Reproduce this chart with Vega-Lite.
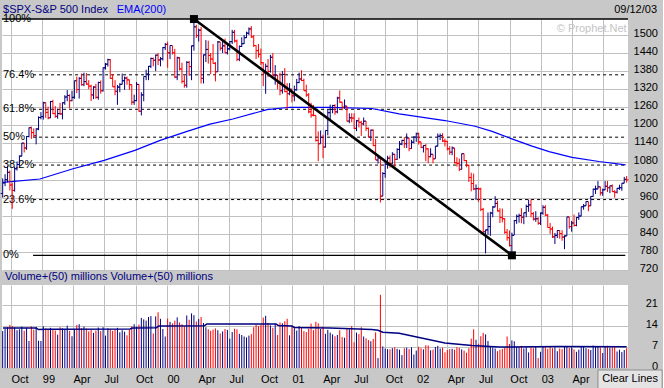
{
"$schema": "https://vega.github.io/schema/vega-lite/v6.json",
"background": "#c8c8c8",
"padding": {"left": -2, "top": 3, "right": 0, "bottom": 0},
"config": {
  "view": {"fill": "white", "stroke": null},
  "font": "Liberation Sans",
  "axis": {"domain": false, "ticks": false, "tickSize": 0, "gridColor": "#c0c0c0", "gridOpacity": 1, "gridWidth": 1, "labelFont": "Liberation Sans", "labelFontSize": 11, "labelColor": "#000000"},
  "text": {"font": "Liberation Sans", "fontSize": 11}
},
"datasets": {
  "weekly": [
{"d":"1998-09-07","o":974,"h":1024,"l":960,"c":1009,"v":12.3},
{"d":"1998-09-14","o":1009,"h":1038,"l":998,"c":1020,"v":13.1},
{"d":"1998-09-21","o":1020,"h":1066,"l":1011,"c":1044,"v":13.6},
{"d":"1998-09-28","o":1044,"h":1050,"l":984,"c":1002,"v":14.4},
{"d":"1998-10-05","o":1002,"h":1010,"l":923,"c":984,"v":14.0},
{"d":"1998-10-12","o":984,"h":1063,"l":980,"c":1056,"v":13.5},
{"d":"1998-10-19","o":1056,"h":1080,"l":1050,"c":1070,"v":12.6},
{"d":"1998-10-26","o":1070,"h":1100,"l":1063,"c":1098,"v":12.9},
{"d":"1998-11-02","o":1098,"h":1142,"l":1097,"c":1141,"v":13.8},
{"d":"1998-11-09","o":1141,"h":1142,"l":1110,"c":1125,"v":12.4},
{"d":"1998-11-16","o":1125,"h":1165,"l":1119,"c":1163,"v":13.4},
{"d":"1998-11-23","o":1163,"h":1193,"l":1160,"c":1192,"v":9.0},
{"d":"1998-11-30","o":1192,"h":1196,"l":1155,"c":1176,"v":13.9},
{"d":"1998-12-07","o":1176,"h":1190,"l":1159,"c":1166,"v":12.8},
{"d":"1998-12-14","o":1166,"h":1190,"l":1137,"c":1188,"v":13.7},
{"d":"1998-12-21","o":1188,"h":1230,"l":1184,"c":1226,"v":9.1},
{"d":"1998-12-28","o":1226,"h":1244,"l":1220,"c":1229,"v":9.0},
{"d":"1999-01-04","o":1229,"h":1278,"l":1219,"c":1275,"v":13.9},
{"d":"1999-01-11","o":1275,"h":1276,"l":1225,"c":1243,"v":13.2},
{"d":"1999-01-18","o":1243,"h":1262,"l":1220,"c":1225,"v":12.7},
{"d":"1999-01-25","o":1225,"h":1281,"l":1224,"c":1279,"v":13.4},
{"d":"1999-02-01","o":1279,"h":1285,"l":1237,"c":1239,"v":13.0},
{"d":"1999-02-08","o":1239,"h":1264,"l":1225,"c":1230,"v":12.5},
{"d":"1999-02-15","o":1230,"h":1255,"l":1222,"c":1239,"v":11.1},
{"d":"1999-02-22","o":1239,"h":1275,"l":1235,"c":1238,"v":13.6},
{"d":"1999-03-01","o":1238,"h":1276,"l":1220,"c":1275,"v":13.2},
{"d":"1999-03-08","o":1275,"h":1300,"l":1268,"c":1294,"v":12.8},
{"d":"1999-03-15","o":1294,"h":1317,"l":1280,"c":1299,"v":14.1},
{"d":"1999-03-22","o":1299,"h":1303,"l":1256,"c":1282,"v":12.4},
{"d":"1999-03-29","o":1282,"h":1315,"l":1280,"c":1293,"v":10.6},
{"d":"1999-04-05","o":1293,"h":1348,"l":1288,"c":1348,"v":12.9},
{"d":"1999-04-12","o":1348,"h":1362,"l":1307,"c":1319,"v":14.3},
{"d":"1999-04-19","o":1319,"h":1360,"l":1289,"c":1356,"v":14.6},
{"d":"1999-04-26","o":1356,"h":1372,"l":1332,"c":1335,"v":13.3},
{"d":"1999-05-03","o":1335,"h":1375,"l":1330,"c":1345,"v":13.8},
{"d":"1999-05-10","o":1345,"h":1374,"l":1335,"c":1337,"v":13.1},
{"d":"1999-05-17","o":1337,"h":1350,"l":1320,"c":1330,"v":12.2},
{"d":"1999-05-24","o":1330,"h":1335,"l":1281,"c":1301,"v":12.8},
{"d":"1999-05-31","o":1301,"h":1330,"l":1287,"c":1327,"v":11.7},
{"d":"1999-06-07","o":1327,"h":1338,"l":1288,"c":1293,"v":12.5},
{"d":"1999-06-14","o":1293,"h":1345,"l":1285,"c":1342,"v":13.5},
{"d":"1999-06-21","o":1342,"h":1349,"l":1305,"c":1315,"v":12.3},
{"d":"1999-06-28","o":1315,"h":1392,"l":1312,"c":1391,"v":13.6},
{"d":"1999-07-05","o":1391,"h":1407,"l":1385,"c":1403,"v":10.8},
{"d":"1999-07-12","o":1403,"h":1421,"l":1395,"c":1418,"v":13.2},
{"d":"1999-07-19","o":1418,"h":1420,"l":1355,"c":1356,"v":13.0},
{"d":"1999-07-26","o":1356,"h":1370,"l":1328,"c":1328,"v":12.4},
{"d":"1999-08-02","o":1328,"h":1350,"l":1300,"c":1313,"v":12.9},
{"d":"1999-08-09","o":1313,"h":1334,"l":1268,"c":1327,"v":13.4},
{"d":"1999-08-16","o":1327,"h":1340,"l":1310,"c":1336,"v":11.9},
{"d":"1999-08-23","o":1336,"h":1372,"l":1336,"c":1348,"v":12.6},
{"d":"1999-08-30","o":1348,"h":1362,"l":1318,"c":1357,"v":12.1},
{"d":"1999-09-06","o":1357,"h":1362,"l":1335,"c":1351,"v":10.9},
{"d":"1999-09-13","o":1351,"h":1352,"l":1318,"c":1335,"v":12.8},
{"d":"1999-09-20","o":1335,"h":1336,"l":1268,"c":1277,"v":13.9},
{"d":"1999-09-27","o":1277,"h":1302,"l":1268,"c":1282,"v":14.6},
{"d":"1999-10-04","o":1282,"h":1344,"l":1280,"c":1336,"v":13.8},
{"d":"1999-10-11","o":1336,"h":1337,"l":1245,"c":1247,"v":14.5},
{"d":"1999-10-18","o":1247,"h":1310,"l":1233,"c":1301,"v":16.7},
{"d":"1999-10-25","o":1301,"h":1362,"l":1280,"c":1362,"v":16.2},
{"d":"1999-11-01","o":1362,"h":1385,"l":1350,"c":1370,"v":15.8},
{"d":"1999-11-08","o":1370,"h":1397,"l":1350,"c":1396,"v":17.0},
{"d":"1999-11-15","o":1396,"h":1425,"l":1390,"c":1422,"v":17.3},
{"d":"1999-11-22","o":1422,"h":1425,"l":1396,"c":1416,"v":11.5},
{"d":"1999-11-29","o":1416,"h":1435,"l":1380,"c":1433,"v":17.2},
{"d":"1999-12-06","o":1433,"h":1440,"l":1400,"c":1417,"v":18.6},
{"d":"1999-12-13","o":1417,"h":1427,"l":1396,"c":1421,"v":16.4},
{"d":"1999-12-20","o":1421,"h":1460,"l":1415,"c":1458,"v":13.0},
{"d":"1999-12-27","o":1458,"h":1473,"l":1450,"c":1469,"v":10.5},
{"d":"2000-01-03","o":1469,"h":1478,"l":1391,"c":1441,"v":16.5},
{"d":"2000-01-10","o":1441,"h":1465,"l":1420,"c":1465,"v":15.4},
{"d":"2000-01-17","o":1465,"h":1465,"l":1435,"c":1441,"v":14.9},
{"d":"2000-01-24","o":1441,"h":1454,"l":1357,"c":1360,"v":15.8},
{"d":"2000-01-31","o":1360,"h":1428,"l":1350,"c":1424,"v":16.9},
{"d":"2000-02-07","o":1424,"h":1427,"l":1382,"c":1387,"v":15.2},
{"d":"2000-02-14","o":1387,"h":1408,"l":1339,"c":1346,"v":14.6},
{"d":"2000-02-21","o":1346,"h":1366,"l":1325,"c":1333,"v":13.9},
{"d":"2000-02-28","o":1333,"h":1413,"l":1325,"c":1409,"v":17.5},
{"d":"2000-03-06","o":1409,"h":1414,"l":1365,"c":1395,"v":16.1},
{"d":"2000-03-13","o":1395,"h":1465,"l":1350,"c":1464,"v":18.2},
{"d":"2000-03-20","o":1464,"h":1553,"l":1448,"c":1527,"v":17.6},
{"d":"2000-03-27","o":1527,"h":1534,"l":1490,"c":1498,"v":15.5},
{"d":"2000-04-03","o":1498,"h":1521,"l":1478,"c":1516,"v":16.3},
{"d":"2000-04-10","o":1516,"h":1527,"l":1339,"c":1356,"v":17.0},
{"d":"2000-04-17","o":1356,"h":1435,"l":1339,"c":1434,"v":15.0},
{"d":"2000-04-24","o":1434,"h":1483,"l":1410,"c":1452,"v":13.6},
{"d":"2000-05-01","o":1452,"h":1481,"l":1405,"c":1432,"v":12.9},
{"d":"2000-05-08","o":1432,"h":1440,"l":1370,"c":1420,"v":12.4},
{"d":"2000-05-15","o":1420,"h":1470,"l":1405,"c":1406,"v":12.8},
{"d":"2000-05-22","o":1406,"h":1410,"l":1346,"c":1378,"v":13.2},
{"d":"2000-05-29","o":1378,"h":1480,"l":1378,"c":1477,"v":12.6},
{"d":"2000-06-05","o":1477,"h":1477,"l":1448,"c":1456,"v":11.5},
{"d":"2000-06-12","o":1456,"h":1480,"l":1440,"c":1464,"v":12.2},
{"d":"2000-06-19","o":1464,"h":1488,"l":1440,"c":1441,"v":13.0},
{"d":"2000-06-26","o":1441,"h":1470,"l":1435,"c":1454,"v":12.7},
{"d":"2000-07-03","o":1454,"h":1480,"l":1449,"c":1478,"v":9.8},
{"d":"2000-07-10","o":1478,"h":1517,"l":1470,"c":1509,"v":12.0},
{"d":"2000-07-17","o":1509,"h":1517,"l":1475,"c":1480,"v":13.1},
{"d":"2000-07-24","o":1480,"h":1485,"l":1413,"c":1419,"v":12.9},
{"d":"2000-07-31","o":1419,"h":1465,"l":1413,"c":1462,"v":11.4},
{"d":"2000-08-07","o":1462,"h":1492,"l":1460,"c":1471,"v":11.0},
{"d":"2000-08-14","o":1471,"h":1500,"l":1470,"c":1491,"v":10.5},
{"d":"2000-08-21","o":1491,"h":1511,"l":1490,"c":1506,"v":10.2},
{"d":"2000-08-28","o":1506,"h":1525,"l":1500,"c":1520,"v":10.8},
{"d":"2000-09-04","o":1520,"h":1530,"l":1490,"c":1494,"v":11.3},
{"d":"2000-09-11","o":1494,"h":1500,"l":1460,"c":1465,"v":13.6},
{"d":"2000-09-18","o":1465,"h":1466,"l":1420,"c":1448,"v":14.5},
{"d":"2000-09-25","o":1448,"h":1470,"l":1425,"c":1436,"v":13.9},
{"d":"2000-10-02","o":1436,"h":1455,"l":1400,"c":1408,"v":14.3},
{"d":"2000-10-09","o":1408,"h":1410,"l":1330,"c":1374,"v":16.8},
{"d":"2000-10-16","o":1374,"h":1405,"l":1305,"c":1396,"v":17.4},
{"d":"2000-10-23","o":1396,"h":1420,"l":1360,"c":1379,"v":15.0},
{"d":"2000-10-30","o":1379,"h":1434,"l":1375,"c":1426,"v":14.2},
{"d":"2000-11-06","o":1426,"h":1440,"l":1365,"c":1365,"v":13.4},
{"d":"2000-11-13","o":1365,"h":1400,"l":1335,"c":1367,"v":14.7},
{"d":"2000-11-20","o":1367,"h":1367,"l":1320,"c":1341,"v":11.0},
{"d":"2000-11-27","o":1341,"h":1375,"l":1300,"c":1315,"v":15.2},
{"d":"2000-12-04","o":1315,"h":1380,"l":1305,"c":1369,"v":14.9},
{"d":"2000-12-11","o":1369,"h":1390,"l":1310,"c":1312,"v":15.6},
{"d":"2000-12-18","o":1312,"h":1340,"l":1254,"c":1305,"v":16.4},
{"d":"2000-12-25","o":1305,"h":1340,"l":1300,"c":1320,"v":10.9},
{"d":"2001-01-01","o":1320,"h":1320,"l":1276,"c":1298,"v":14.1},
{"d":"2001-01-08","o":1298,"h":1332,"l":1280,"c":1318,"v":13.3},
{"d":"2001-01-15","o":1318,"h":1354,"l":1315,"c":1342,"v":12.5},
{"d":"2001-01-22","o":1342,"h":1375,"l":1340,"c":1354,"v":14.0},
{"d":"2001-01-29","o":1354,"h":1383,"l":1347,"c":1349,"v":13.6},
{"d":"2001-02-05","o":1349,"h":1355,"l":1315,"c":1315,"v":12.3},
{"d":"2001-02-12","o":1315,"h":1335,"l":1295,"c":1301,"v":12.0},
{"d":"2001-02-19","o":1301,"h":1307,"l":1240,"c":1245,"v":13.1},
{"d":"2001-02-26","o":1245,"h":1275,"l":1225,"c":1234,"v":14.8},
{"d":"2001-03-05","o":1234,"h":1268,"l":1230,"c":1233,"v":12.6},
{"d":"2001-03-12","o":1233,"h":1233,"l":1146,"c":1150,"v":15.4},
{"d":"2001-03-19","o":1150,"h":1180,"l":1081,"c":1139,"v":14.9},
{"d":"2001-03-26","o":1139,"h":1183,"l":1139,"c":1160,"v":13.0},
{"d":"2001-04-02","o":1160,"h":1169,"l":1091,"c":1128,"v":13.8},
{"d":"2001-04-09","o":1128,"h":1183,"l":1126,"c":1183,"v":11.4},
{"d":"2001-04-16","o":1183,"h":1253,"l":1167,"c":1242,"v":12.7},
{"d":"2001-04-23","o":1242,"h":1269,"l":1217,"c":1253,"v":11.8},
{"d":"2001-04-30","o":1253,"h":1268,"l":1240,"c":1266,"v":11.2},
{"d":"2001-05-07","o":1266,"h":1270,"l":1235,"c":1245,"v":10.6},
{"d":"2001-05-14","o":1245,"h":1295,"l":1240,"c":1291,"v":11.0},
{"d":"2001-05-21","o":1291,"h":1316,"l":1275,"c":1277,"v":12.6},
{"d":"2001-05-28","o":1277,"h":1278,"l":1250,"c":1260,"v":10.3},
{"d":"2001-06-04","o":1260,"h":1286,"l":1255,"c":1264,"v":10.1},
{"d":"2001-06-11","o":1264,"h":1264,"l":1213,"c":1214,"v":13.0},
{"d":"2001-06-18","o":1214,"h":1240,"l":1207,"c":1225,"v":12.9},
{"d":"2001-06-25","o":1225,"h":1240,"l":1210,"c":1224,"v":14.0},
{"d":"2001-07-02","o":1224,"h":1240,"l":1188,"c":1190,"v":8.6},
{"d":"2001-07-09","o":1190,"h":1218,"l":1181,"c":1215,"v":11.8},
{"d":"2001-07-16","o":1215,"h":1226,"l":1193,"c":1210,"v":11.3},
{"d":"2001-07-23","o":1210,"h":1215,"l":1165,"c":1205,"v":13.6},
{"d":"2001-07-30","o":1205,"h":1226,"l":1200,"c":1214,"v":10.5},
{"d":"2001-08-06","o":1214,"h":1214,"l":1181,"c":1190,"v":9.9},
{"d":"2001-08-13","o":1190,"h":1193,"l":1160,"c":1161,"v":9.3},
{"d":"2001-08-20","o":1161,"h":1186,"l":1148,"c":1184,"v":8.9},
{"d":"2001-08-27","o":1184,"h":1186,"l":1131,"c":1133,"v":9.7},
{"d":"2001-09-03","o":1133,"h":1155,"l":1085,"c":1085,"v":11.9},
{"d":"2001-09-10","o":1085,"h":1096,"l":1073,"c":1092,"v":3.3},
{"d":"2001-09-17","o":1092,"h":1092,"l":944,"c":965,"v":24.4},
{"d":"2001-09-24","o":965,"h":1045,"l":965,"c":1040,"v":7.2},
{"d":"2001-10-01","o":1040,"h":1085,"l":1026,"c":1071,"v":6.5},
{"d":"2001-10-08","o":1071,"h":1099,"l":1056,"c":1091,"v":6.3},
{"d":"2001-10-15","o":1091,"h":1100,"l":1060,"c":1073,"v":6.2},
{"d":"2001-10-22","o":1073,"h":1111,"l":1070,"c":1104,"v":6.6},
{"d":"2001-10-29","o":1104,"h":1105,"l":1054,"c":1087,"v":6.9},
{"d":"2001-11-05","o":1087,"h":1124,"l":1085,"c":1120,"v":6.4},
{"d":"2001-11-12","o":1120,"h":1148,"l":1090,"c":1138,"v":6.1},
{"d":"2001-11-19","o":1138,"h":1152,"l":1134,"c":1150,"v":4.3},
{"d":"2001-11-26","o":1150,"h":1161,"l":1125,"c":1139,"v":6.6},
{"d":"2001-12-03","o":1139,"h":1173,"l":1125,"c":1158,"v":6.8},
{"d":"2001-12-10","o":1158,"h":1159,"l":1114,"c":1123,"v":6.3},
{"d":"2001-12-17","o":1123,"h":1152,"l":1122,"c":1144,"v":6.9},
{"d":"2001-12-24","o":1144,"h":1164,"l":1140,"c":1161,"v":4.5},
{"d":"2001-12-31","o":1161,"h":1176,"l":1145,"c":1172,"v":5.8},
{"d":"2002-01-07","o":1172,"h":1176,"l":1136,"c":1145,"v":7.1},
{"d":"2002-01-14","o":1145,"h":1145,"l":1124,"c":1127,"v":6.6},
{"d":"2002-01-21","o":1127,"h":1135,"l":1110,"c":1133,"v":6.2},
{"d":"2002-01-28","o":1133,"h":1138,"l":1081,"c":1122,"v":7.6},
{"d":"2002-02-04","o":1122,"h":1124,"l":1074,"c":1096,"v":7.5},
{"d":"2002-02-11","o":1096,"h":1124,"l":1094,"c":1104,"v":5.9},
{"d":"2002-02-18","o":1104,"h":1104,"l":1074,"c":1089,"v":6.1},
{"d":"2002-02-25","o":1089,"h":1131,"l":1089,"c":1131,"v":7.0},
{"d":"2002-03-04","o":1131,"h":1173,"l":1130,"c":1164,"v":7.4},
{"d":"2002-03-11","o":1164,"h":1173,"l":1151,"c":1166,"v":6.5},
{"d":"2002-03-18","o":1166,"h":1174,"l":1145,"c":1148,"v":6.8},
{"d":"2002-03-25","o":1148,"h":1156,"l":1130,"c":1147,"v":5.2},
{"d":"2002-04-01","o":1147,"h":1148,"l":1117,"c":1122,"v":6.0},
{"d":"2002-04-08","o":1122,"h":1131,"l":1102,"c":1111,"v":6.3},
{"d":"2002-04-15","o":1111,"h":1130,"l":1101,"c":1125,"v":6.4},
{"d":"2002-04-22","o":1125,"h":1125,"l":1074,"c":1076,"v":6.1},
{"d":"2002-04-29","o":1076,"h":1094,"l":1063,"c":1073,"v":6.9},
{"d":"2002-05-06","o":1073,"h":1090,"l":1048,"c":1054,"v":6.7},
{"d":"2002-05-13","o":1054,"h":1106,"l":1053,"c":1106,"v":6.2},
{"d":"2002-05-20","o":1106,"h":1106,"l":1082,"c":1083,"v":5.8},
{"d":"2002-05-27","o":1083,"h":1085,"l":1061,"c":1067,"v":5.1},
{"d":"2002-06-03","o":1067,"h":1070,"l":1012,"c":1027,"v":6.6},
{"d":"2002-06-10","o":1027,"h":1043,"l":981,"c":1007,"v":9.8},
{"d":"2002-06-17","o":1007,"h":1040,"l":985,"c":989,"v":12.9},
{"d":"2002-06-24","o":989,"h":1004,"l":952,"c":990,"v":9.4},
{"d":"2002-07-01","o":990,"h":994,"l":946,"c":989,"v":8.1},
{"d":"2002-07-08","o":989,"h":993,"l":915,"c":921,"v":10.6},
{"d":"2002-07-15","o":921,"h":926,"l":844,"c":847,"v":11.7},
{"d":"2002-07-22","o":847,"h":854,"l":775,"c":853,"v":11.2},
{"d":"2002-07-29","o":853,"h":911,"l":837,"c":864,"v":9.0},
{"d":"2002-08-05","o":864,"h":913,"l":833,"c":909,"v":7.3},
{"d":"2002-08-12","o":909,"h":932,"l":895,"c":929,"v":6.8},
{"d":"2002-08-19","o":929,"h":965,"l":928,"c":941,"v":6.5},
{"d":"2002-08-26","o":941,"h":950,"l":914,"c":916,"v":5.6},
{"d":"2002-09-02","o":916,"h":925,"l":876,"c":894,"v":6.1},
{"d":"2002-09-09","o":894,"h":924,"l":878,"c":890,"v":6.4},
{"d":"2002-09-16","o":890,"h":892,"l":840,"c":845,"v":6.8},
{"d":"2002-09-23","o":845,"h":856,"l":817,"c":827,"v":10.5},
{"d":"2002-09-30","o":827,"h":851,"l":798,"c":801,"v":8.0},
{"d":"2002-10-07","o":801,"h":844,"l":768,"c":835,"v":9.2},
{"d":"2002-10-14","o":835,"h":886,"l":836,"c":884,"v":8.9},
{"d":"2002-10-21","o":884,"h":904,"l":873,"c":898,"v":7.0},
{"d":"2002-10-28","o":898,"h":907,"l":877,"c":901,"v":6.9},
{"d":"2002-11-04","o":901,"h":925,"l":875,"c":895,"v":7.4},
{"d":"2002-11-11","o":895,"h":910,"l":872,"c":910,"v":6.5},
{"d":"2002-11-18","o":910,"h":937,"l":895,"c":931,"v":6.9},
{"d":"2002-11-25","o":931,"h":954,"l":913,"c":936,"v":5.2},
{"d":"2002-12-02","o":936,"h":954,"l":895,"c":907,"v":6.8},
{"d":"2002-12-09","o":907,"h":912,"l":884,"c":889,"v":6.6},
{"d":"2002-12-16","o":889,"h":915,"l":880,"c":890,"v":7.0},
{"d":"2002-12-23","o":890,"h":895,"l":870,"c":875,"v":3.3},
{"d":"2002-12-30","o":875,"h":911,"l":869,"c":909,"v":5.4},
{"d":"2003-01-06","o":909,"h":935,"l":903,"c":928,"v":7.2},
{"d":"2003-01-13","o":928,"h":935,"l":899,"c":902,"v":7.0},
{"d":"2003-01-20","o":902,"h":906,"l":860,"c":861,"v":6.4},
{"d":"2003-01-27","o":861,"h":876,"l":840,"c":856,"v":7.3},
{"d":"2003-02-03","o":856,"h":864,"l":826,"c":830,"v":6.6},
{"d":"2003-02-10","o":830,"h":843,"l":806,"c":835,"v":6.9},
{"d":"2003-02-17","o":835,"h":852,"l":826,"c":851,"v":5.6},
{"d":"2003-02-24","o":851,"h":852,"l":824,"c":841,"v":6.5},
{"d":"2003-03-03","o":841,"h":852,"l":817,"c":829,"v":6.3},
{"d":"2003-03-10","o":829,"h":835,"l":789,"c":833,"v":7.1},
{"d":"2003-03-17","o":833,"h":896,"l":833,"c":896,"v":7.3},
{"d":"2003-03-24","o":896,"h":896,"l":857,"c":864,"v":6.7},
{"d":"2003-03-31","o":864,"h":883,"l":847,"c":876,"v":6.9},
{"d":"2003-04-07","o":876,"h":904,"l":864,"c":868,"v":6.2},
{"d":"2003-04-14","o":868,"h":896,"l":865,"c":894,"v":5.4},
{"d":"2003-04-21","o":894,"h":911,"l":886,"c":899,"v":6.1},
{"d":"2003-04-28","o":899,"h":930,"l":898,"c":930,"v":7.2},
{"d":"2003-05-05","o":930,"h":939,"l":920,"c":933,"v":7.0},
{"d":"2003-05-12","o":933,"h":948,"l":933,"c":947,"v":6.6},
{"d":"2003-05-19","o":947,"h":947,"l":915,"c":933,"v":6.3},
{"d":"2003-05-26","o":933,"h":965,"l":933,"c":964,"v":6.0},
{"d":"2003-06-02","o":964,"h":990,"l":963,"c":988,"v":7.5},
{"d":"2003-06-09","o":988,"h":1000,"l":972,"c":989,"v":7.1},
{"d":"2003-06-16","o":989,"h":1015,"l":988,"c":996,"v":7.3},
{"d":"2003-06-23","o":996,"h":997,"l":967,"c":976,"v":6.8},
{"d":"2003-06-30","o":976,"h":990,"l":966,"c":986,"v":5.0},
{"d":"2003-07-07","o":986,"h":1015,"l":985,"c":998,"v":7.0},
{"d":"2003-07-14","o":998,"h":1015,"l":979,"c":993,"v":7.4},
{"d":"2003-07-21","o":993,"h":1000,"l":975,"c":999,"v":6.7},
{"d":"2003-07-28","o":999,"h":1004,"l":979,"c":980,"v":6.9},
{"d":"2003-08-04","o":980,"h":985,"l":960,"c":978,"v":7.2},
{"d":"2003-08-11","o":978,"h":992,"l":974,"c":991,"v":5.5},
{"d":"2003-08-18","o":991,"h":1003,"l":986,"c":993,"v":6.1},
{"d":"2003-08-25","o":993,"h":1008,"l":983,"c":1008,"v":5.3},
{"d":"2003-09-01","o":1008,"h":1029,"l":1008,"c":1021,"v":6.0},
{"d":"2003-09-08","o":1021,"h":1032,"l":1010,"c":1019,"v":6.6}
  ],
  "ema": [
{"d":"1998-09-08","v":1011},{"d":"1998-12-25","v":1022},{"d":"1999-04-01","v":1056},{"d":"1999-07-01","v":1084},
{"d":"1999-09-29","v":1117},{"d":"1999-12-12","v":1150},{"d":"2000-02-29","v":1180},{"d":"2000-05-06","v":1204},
{"d":"2000-07-12","v":1221},{"d":"2000-10-20","v":1252},{"d":"2000-12-26","v":1260},{"d":"2001-04-22","v":1260},
{"d":"2001-08-23","v":1256},{"d":"2001-11-11","v":1238},{"d":"2002-03-25","v":1216},{"d":"2002-06-21","v":1197},
{"d":"2002-08-10","v":1180},{"d":"2002-10-07","v":1155},{"d":"2002-12-05","v":1131},{"d":"2003-01-24","v":1113},
{"d":"2003-04-01","v":1094},{"d":"2003-06-19","v":1080},{"d":"2003-09-05","v":1069}
  ],
  "vavg": [
{"d":"1998-09-08","v":13.3},{"d":"1998-12-14","v":13.3},{"d":"1998-12-21","v":12.8},{"d":"1999-01-14","v":12.9},
{"d":"1999-09-15","v":13.0},{"d":"1999-09-22","v":13.3},{"d":"1999-12-01","v":13.4},{"d":"1999-12-08","v":14.0},
{"d":"2000-04-20","v":14.1},{"d":"2000-04-27","v":14.7},{"d":"2000-11-15","v":14.7},{"d":"2000-11-22","v":14.2},
{"d":"2001-01-01","v":14.0},{"d":"2001-01-08","v":13.5},{"d":"2001-04-22","v":13.3},{"d":"2001-08-23","v":12.8},
{"d":"2001-09-10","v":12.6},{"d":"2001-09-24","v":11.9},{"d":"2001-11-11","v":11.6},{"d":"2002-03-25","v":8.3},
{"d":"2002-06-12","v":7.5},{"d":"2002-08-30","v":7.0},{"d":"2003-02-25","v":7.2},{"d":"2003-09-08","v":7.1}
  ],
  "trend": [{"d":"2000-03-20","p":1552.87},{"d":"2002-10-07","p":768.63}],
  "fib": [
{"pct":"100%","p":1552.87},{"pct":"76.4%","p":1367.8},{"pct":"61.8%","p":1253.3},{"pct":"50%","p":1160.75},
{"pct":"38.2%","p":1068.2},{"pct":"23.6%","p":953.7},{"pct":"0%","p":768.63}
  ]
},
"bounds": "flush",
"spacing": 14,
"vconcat": [
{
  "width": 626,
  "height": 252,
  "layer": [
    {"data": {"name": "fib"}, "transform": [{"filter": "datum.p > 800 && datum.p < 1500"}],
     "mark": {"type": "rule", "color": "#000000", "strokeWidth": 1, "strokeDash": [3, 3]},
     "encoding": {
       "x": {"datum": 912816000000, "type": "temporal", "scale": {"domain": [904953600000, 1063324800000]}, "axis": {"labels": false, "grid": true, "tickCount": {"interval": "month", "step": 3}, "title": null}},
       "x2": {"datum": 1062633600000},
       "y": {"field": "p", "type": "quantitative", "scale": {"domain": [716.6, 1553], "nice": false, "zero": false}, "axis": {"orient": "right", "values": [720,780,840,900,960,1020,1080,1140,1200,1260,1320,1380,1440,1500], "format": "d", "grid": true, "labelAlign": "right", "labelPadding": 29.5, "labelOffset": -1.5, "labelOverlap": false, "labelBound": false, "title": null}}}},
    {"data": {"name": "fib"}, "transform": [{"filter": "datum.p < 800"}],
     "mark": {"type": "rule", "color": "#000000", "strokeWidth": 1.3},
     "encoding": {
       "x": {"datum": 912816000000, "type": "temporal", "scale": {"domain": [904953600000, 1063324800000]}, "axis": {"labels": false, "grid": true, "tickCount": {"interval": "month", "step": 3}, "title": null}},
       "x2": {"datum": 1062633600000},
       "y": {"field": "p", "type": "quantitative", "scale": {"domain": [716.6, 1553], "nice": false, "zero": false}, "axis": {"orient": "right", "values": [720,780,840,900,960,1020,1080,1140,1200,1260,1320,1380,1440,1500], "format": "d", "grid": true, "labelAlign": "right", "labelPadding": 29.5, "labelOffset": -1.5, "labelOverlap": false, "labelBound": false, "title": null}}}},
    {"data": {"name": "fib"}, "transform": [{"filter": "datum.p > 1500"}],
     "mark": {"type": "rule", "color": "#000000", "strokeWidth": 1.5},
     "encoding": {
       "x": {"datum": 904953600000, "type": "temporal", "scale": {"domain": [904953600000, 1063324800000]}, "axis": {"labels": false, "grid": true, "tickCount": {"interval": "month", "step": 3}, "title": null}},
       "x2": {"datum": 1063324800000},
       "y": {"field": "p", "type": "quantitative", "scale": {"domain": [716.6, 1553], "nice": false, "zero": false}, "axis": {"orient": "right", "values": [720,780,840,900,960,1020,1080,1140,1200,1260,1320,1380,1440,1500], "format": "d", "grid": true, "labelAlign": "right", "labelPadding": 29.5, "labelOffset": -1.5, "labelOverlap": false, "labelBound": false, "title": null}}}},
    {"data": {"name": "fib"},
     "mark": {"type": "text", "align": "left", "baseline": "middle", "dx": 1, "fontSize": 11, "color": "#000000"},
     "encoding": {
       "x": {"datum": 904953600000, "type": "temporal", "scale": {"domain": [904953600000, 1063324800000]}, "axis": {"labels": false, "grid": true, "tickCount": {"interval": "month", "step": 3}, "title": null}},
       "y": {"field": "p", "type": "quantitative", "scale": {"domain": [716.6, 1553], "nice": false, "zero": false}, "axis": {"orient": "right", "values": [720,780,840,900,960,1020,1080,1140,1200,1260,1320,1380,1440,1500], "format": "d", "grid": true, "labelAlign": "right", "labelPadding": 29.5, "labelOffset": -1.5, "labelOverlap": false, "labelBound": false, "title": null}},
       "text": {"field": "pct"}}},
    {"data": {"name": "ema"},
     "mark": {"type": "line", "color": "#0000ff", "strokeWidth": 1.2},
     "encoding": {
       "x": {"field": "d", "type": "temporal", "scale": {"domain": [904953600000, 1063324800000]}, "axis": {"labels": false, "grid": true, "tickCount": {"interval": "month", "step": 3}, "title": null}},
       "y": {"field": "v", "type": "quantitative", "scale": {"domain": [716.6, 1553], "nice": false, "zero": false}, "axis": {"orient": "right", "values": [720,780,840,900,960,1020,1080,1140,1200,1260,1320,1380,1440,1500], "format": "d", "grid": true, "labelAlign": "right", "labelPadding": 29.5, "labelOffset": -1.5, "labelOverlap": false, "labelBound": false, "title": null}}}},
    {"data": {"name": "weekly"},
     "mark": {"type": "rule", "strokeWidth": 1},
     "encoding": {
       "x": {"field": "d", "type": "temporal", "scale": {"domain": [904953600000, 1063324800000]}, "axis": {"labels": false, "grid": true, "tickCount": {"interval": "month", "step": 3}, "title": null}},
       "y": {"field": "l", "type": "quantitative", "scale": {"domain": [716.6, 1553], "nice": false, "zero": false}, "axis": {"orient": "right", "values": [720,780,840,900,960,1020,1080,1140,1200,1260,1320,1380,1440,1500], "format": "d", "grid": true, "labelAlign": "right", "labelPadding": 29.5, "labelOffset": -1.5, "labelOverlap": false, "labelBound": false, "title": null}},
       "y2": {"field": "h"},
       "color": {"condition": {"test": "datum.c >= datum.o", "value": "#000080"}, "value": "#ff0000"}}},
    {"data": {"name": "weekly"},
     "mark": {"type": "point", "shape": "M-1,0H0", "size": 16, "filled": false, "strokeWidth": 1, "opacity": 1},
     "encoding": {
       "x": {"field": "d", "type": "temporal", "scale": {"domain": [904953600000, 1063324800000]}, "axis": {"labels": false, "grid": true, "tickCount": {"interval": "month", "step": 3}, "title": null}},
       "y": {"field": "o", "type": "quantitative", "scale": {"domain": [716.6, 1553], "nice": false, "zero": false}, "axis": {"orient": "right", "values": [720,780,840,900,960,1020,1080,1140,1200,1260,1320,1380,1440,1500], "format": "d", "grid": true, "labelAlign": "right", "labelPadding": 29.5, "labelOffset": -1.5, "labelOverlap": false, "labelBound": false, "title": null}},
       "color": {"condition": {"test": "datum.c >= datum.o", "value": "#000080"}, "value": "#ff0000"}}},
    {"data": {"name": "weekly"},
     "mark": {"type": "point", "shape": "M0,0H1", "size": 16, "filled": false, "strokeWidth": 1, "opacity": 1},
     "encoding": {
       "x": {"field": "d", "type": "temporal", "scale": {"domain": [904953600000, 1063324800000]}, "axis": {"labels": false, "grid": true, "tickCount": {"interval": "month", "step": 3}, "title": null}},
       "y": {"field": "c", "type": "quantitative", "scale": {"domain": [716.6, 1553], "nice": false, "zero": false}, "axis": {"orient": "right", "values": [720,780,840,900,960,1020,1080,1140,1200,1260,1320,1380,1440,1500], "format": "d", "grid": true, "labelAlign": "right", "labelPadding": 29.5, "labelOffset": -1.5, "labelOverlap": false, "labelBound": false, "title": null}},
       "color": {"condition": {"test": "datum.c >= datum.o", "value": "#000080"}, "value": "#ff0000"}}},
    {"data": {"name": "trend"},
     "mark": {"type": "line", "color": "#000000", "strokeWidth": 2.5},
     "encoding": {
       "x": {"field": "d", "type": "temporal", "scale": {"domain": [904953600000, 1063324800000]}, "axis": {"labels": false, "grid": true, "tickCount": {"interval": "month", "step": 3}, "title": null}},
       "y": {"field": "p", "type": "quantitative", "scale": {"domain": [716.6, 1553], "nice": false, "zero": false}, "axis": {"orient": "right", "values": [720,780,840,900,960,1020,1080,1140,1200,1260,1320,1380,1440,1500], "format": "d", "grid": true, "labelAlign": "right", "labelPadding": 29.5, "labelOffset": -1.5, "labelOverlap": false, "labelBound": false, "title": null}}}},
    {"data": {"name": "trend"},
     "mark": {"type": "point", "shape": "square", "filled": true, "size": 64, "color": "#000000", "opacity": 1},
     "encoding": {
       "x": {"field": "d", "type": "temporal", "scale": {"domain": [904953600000, 1063324800000]}, "axis": {"labels": false, "grid": true, "tickCount": {"interval": "month", "step": 3}, "title": null}},
       "y": {"field": "p", "type": "quantitative", "scale": {"domain": [716.6, 1553], "nice": false, "zero": false}, "axis": {"orient": "right", "values": [720,780,840,900,960,1020,1080,1140,1200,1260,1320,1380,1440,1500], "format": "d", "grid": true, "labelAlign": "right", "labelPadding": 29.5, "labelOffset": -1.5, "labelOverlap": false, "labelBound": false, "title": null}}}},
    {"data": {"values": [{}]},
     "mark": {"type": "text", "text": "$SPX-S&P 500 Index", "align": "left", "baseline": "middle", "fontSize": 11, "color": "#000080"},
     "encoding": {
       "x": {"datum": 905212800000, "type": "temporal", "scale": {"domain": [904953600000, 1063324800000]}, "axis": {"labels": false, "grid": true, "tickCount": {"interval": "month", "step": 3}, "title": null}},
       "y": {"datum": 1583, "type": "quantitative", "scale": {"domain": [716.6, 1553], "nice": false, "zero": false}, "axis": {"orient": "right", "values": [720,780,840,900,960,1020,1080,1140,1200,1260,1320,1380,1440,1500], "format": "d", "grid": true, "labelAlign": "right", "labelPadding": 29.5, "labelOffset": -1.5, "labelOverlap": false, "labelBound": false, "title": null}}}},
    {"data": {"values": [{}]},
     "mark": {"type": "text", "text": "EMA(200)", "align": "left", "baseline": "middle", "fontSize": 11, "color": "#0000ff"},
     "encoding": {
       "x": {"datum": 933984000000, "type": "temporal", "scale": {"domain": [904953600000, 1063324800000]}, "axis": {"labels": false, "grid": true, "tickCount": {"interval": "month", "step": 3}, "title": null}},
       "y": {"datum": 1583, "type": "quantitative", "scale": {"domain": [716.6, 1553], "nice": false, "zero": false}, "axis": {"orient": "right", "values": [720,780,840,900,960,1020,1080,1140,1200,1260,1320,1380,1440,1500], "format": "d", "grid": true, "labelAlign": "right", "labelPadding": 29.5, "labelOffset": -1.5, "labelOverlap": false, "labelBound": false, "title": null}}}},
    {"data": {"values": [{}]},
     "mark": {"type": "text", "text": "09/12/03", "align": "right", "baseline": "middle", "fontSize": 11, "color": "#000000"},
     "encoding": {
       "x": {"datum": 1070668800000, "type": "temporal", "scale": {"domain": [904953600000, 1063324800000]}, "axis": {"labels": false, "grid": true, "tickCount": {"interval": "month", "step": 3}, "title": null}},
       "y": {"datum": 1583, "type": "quantitative", "scale": {"domain": [716.6, 1553], "nice": false, "zero": false}, "axis": {"orient": "right", "values": [720,780,840,900,960,1020,1080,1140,1200,1260,1320,1380,1440,1500], "format": "d", "grid": true, "labelAlign": "right", "labelPadding": 29.5, "labelOffset": -1.5, "labelOverlap": false, "labelBound": false, "title": null}}}},
    {"data": {"values": [{}]},
     "mark": {"type": "text", "text": "© Prophet.Net", "align": "right", "baseline": "middle", "fontSize": 11, "color": "#c4c4c4"},
     "encoding": {
       "x": {"datum": 1062979200000, "type": "temporal", "scale": {"domain": [904953600000, 1063324800000]}, "axis": {"labels": false, "grid": true, "tickCount": {"interval": "month", "step": 3}, "title": null}},
       "y": {"datum": 1521, "type": "quantitative", "scale": {"domain": [716.6, 1553], "nice": false, "zero": false}, "axis": {"orient": "right", "values": [720,780,840,900,960,1020,1080,1140,1200,1260,1320,1380,1440,1500], "format": "d", "grid": true, "labelAlign": "right", "labelPadding": 29.5, "labelOffset": -1.5, "labelOverlap": false, "labelBound": false, "title": null}}}}
  ]
},
{
  "width": 626,
  "height": 83,
  "title": {"text": "Volume+(50) millions   Volume+(50) millions", "anchor": "start", "color": "#000080", "fontSize": 11, "font": "Liberation Sans", "fontWeight": "normal", "baseline": "middle", "offset": 7, "dx": 5, "dy": 10},
  "layer": [
    {"data": {"name": "weekly"},
     "mark": {"type": "rule", "strokeWidth": 1},
     "encoding": {
       "x": {"field": "d", "type": "temporal", "scale": {"domain": [904953600000, 1063324800000]},
         "axis": {"grid": true, "tickCount": {"interval": "month", "step": 3}, "labelAlign": "left", "labelPadding": 5, "labelFlush": false, "labelOverlap": false, "labelBound": false, "title": null, "labelExpr": "month(datum.value) == 0 ? timeFormat(datum.value, '%y') : (datum.value > datetime(2003, 5, 15) ? '' : timeFormat(datum.value, '%b'))"}},
       "y": {"field": "v", "type": "quantitative", "scale": {"domain": [0, 27.67], "nice": false, "zero": false},
         "axis": {"orient": "right", "values": [0, 7, 14, 21], "format": "d", "grid": true, "labelAlign": "right", "labelPadding": 29.5, "labelOffset": -1.5, "labelOverlap": false, "labelBound": false, "title": null}},
       "y2": {"datum": 0},
       "color": {"condition": {"test": "datum.c >= datum.o", "value": "#000080"}, "value": "#ff0000"}}},
    {"data": {"name": "vavg"},
     "mark": {"type": "line", "color": "#000080", "strokeWidth": 1.5},
     "encoding": {
       "x": {"field": "d", "type": "temporal", "scale": {"domain": [904953600000, 1063324800000]},
         "axis": {"grid": true, "tickCount": {"interval": "month", "step": 3}, "labelAlign": "left", "labelPadding": 5, "labelFlush": false, "labelOverlap": false, "labelBound": false, "title": null, "labelExpr": "month(datum.value) == 0 ? timeFormat(datum.value, '%y') : (datum.value > datetime(2003, 5, 15) ? '' : timeFormat(datum.value, '%b'))"}},
       "y": {"field": "v", "type": "quantitative", "scale": {"domain": [0, 27.67], "nice": false, "zero": false},
         "axis": {"orient": "right", "values": [0, 7, 14, 21], "format": "d", "grid": true, "labelAlign": "right", "labelPadding": 29.5, "labelOffset": -1.5, "labelOverlap": false, "labelBound": false, "title": null}}}},
    {"data": {"values": [{}]},
     "mark": {"type": "rect", "fill": "#e4e4e4", "stroke": "#8c8c8c", "strokeWidth": 1},
     "encoding": {
       "x": {"datum": 1055721600000, "type": "temporal", "scale": {"domain": [904953600000, 1063324800000]},
         "axis": {"grid": true, "tickCount": {"interval": "month", "step": 3}, "labelAlign": "left", "labelPadding": 5, "labelFlush": false, "labelOverlap": false, "labelBound": false, "title": null, "labelExpr": "month(datum.value) == 0 ? timeFormat(datum.value, '%y') : (datum.value > datetime(2003, 5, 15) ? '' : timeFormat(datum.value, '%b'))"}},
       "x2": {"datum": 1071964800000},
       "y": {"datum": -0.67, "type": "quantitative", "scale": {"domain": [0, 27.67], "nice": false, "zero": false},
         "axis": {"orient": "right", "values": [0, 7, 14, 21], "format": "d", "grid": true, "labelAlign": "right", "labelPadding": 29.5, "labelOffset": -1.5, "labelOverlap": false, "labelBound": false, "title": null}},
       "y2": {"datum": -7}}},
    {"data": {"values": [{}]},
     "mark": {"type": "text", "text": "Clear Lines", "align": "center", "baseline": "middle", "fontSize": 11, "color": "#000000"},
     "encoding": {
       "x": {"datum": 1063843200000, "type": "temporal", "scale": {"domain": [904953600000, 1063324800000]},
         "axis": {"grid": true, "tickCount": {"interval": "month", "step": 3}, "labelAlign": "left", "labelPadding": 5, "labelFlush": false, "labelOverlap": false, "labelBound": false, "title": null, "labelExpr": "month(datum.value) == 0 ? timeFormat(datum.value, '%y') : (datum.value > datetime(2003, 5, 15) ? '' : timeFormat(datum.value, '%b'))"}},
       "y": {"datum": -3.6, "type": "quantitative", "scale": {"domain": [0, 27.67], "nice": false, "zero": false},
         "axis": {"orient": "right", "values": [0, 7, 14, 21], "format": "d", "grid": true, "labelAlign": "right", "labelPadding": 29.5, "labelOffset": -1.5, "labelOverlap": false, "labelBound": false, "title": null}}}}
  ]
}
]
}
